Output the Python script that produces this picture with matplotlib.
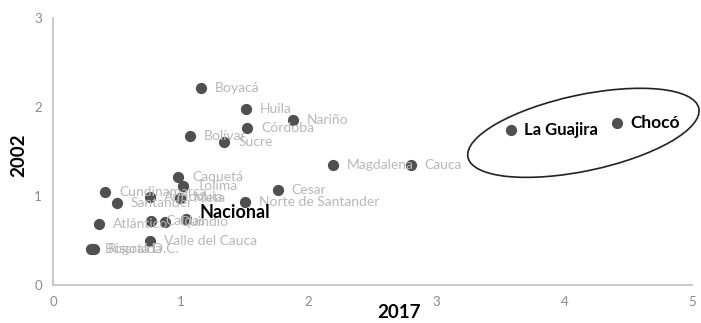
import matplotlib
matplotlib.use("Agg")
import matplotlib.pyplot as plt
from matplotlib.patches import Ellipse
from matplotlib.transforms import ScaledTranslation

plt.rcParams['font.family'] = ['Lato', 'DejaVu Sans']

# departamentos: valor 2017 (x) y 2002 (y)
names = ["Boyacá", "Huila", "Nariño", "Córdoba", "Bolívar", "Sucre",
         "Magdalena", "Cauca", "Caquetá", "Tolima", "Cundinamarca",
         "Santander", "Antioquia", "Meta", "Norte de Santander", "Cesar",
         "Atlántico", "Caldas", "Quindío", "Valle del Cauca",
         "Bogotá D.C.", "Risaralda"]
x2017 = [1.16, 1.51, 1.88, 1.52, 1.07, 1.34,
         2.19, 2.80, 0.98, 1.02, 0.41,
         0.50, 0.76, 0.99, 1.50, 1.76,
         0.36, 0.77, 0.88, 0.76,
         0.30, 0.32]
y2002 = [2.21, 1.98, 1.85, 1.76, 1.67, 1.61,
         1.35, 1.35, 1.21, 1.11, 1.04,
         0.92, 0.99, 0.98, 0.93, 1.07,
         0.69, 0.72, 0.71, 0.49,
         0.41, 0.40]

# destacados
hl_names = ["La Guajira", "Chocó", "Nacional"]
hl_x = [3.58, 4.41, 1.04]
hl_y = [1.74, 1.82, 0.74]

fig = plt.figure(figsize=(7.01, 3.23), dpi=100)
ax = fig.add_axes([0.0756, 0.1176, 0.9116, 0.8266])

ax.scatter(x2017, y2002, s=50, color="#505050", zorder=3)
ax.scatter(hl_x, hl_y, s=50, color="#505050", zorder=3)

for n, x, y in zip(names, x2017, y2002):
    ax.annotate(n, (x, y), xytext=(10, 0), textcoords="offset points",
                va="center", ha="left", fontsize=10, color="#b8b8b8")

hl_size = [12, 12.5, 13]
hl_dy = [0, 0, 5]
for n, x, y, fs, dy in zip(hl_names, hl_x, hl_y, hl_size, hl_dy):
    ax.annotate(n, (x, y), xytext=(10, dy), textcoords="offset points",
                va="center", ha="left", fontsize=fs, color="black",
                fontweight="bold", zorder=4)

# elipse alrededor de La Guajira y Chocó
ell = Ellipse((0, 0), 2.36, 0.76, angle=12, fill=False, edgecolor="#222222",
              linewidth=1.2, clip_on=False,
              transform=fig.dpi_scale_trans + ScaledTranslation(4.15, 1.71, ax.transData))
ax.add_patch(ell)

ax.set_xlim(0, 5)
ax.set_ylim(0, 3)
ax.set_xticks([0, 1, 2, 3, 4, 5])
ax.set_yticks([0, 1, 2, 3])
ax.tick_params(length=0, colors="#8a8a8a", labelsize=9.5, pad=8)
for s in ["top", "right"]:
    ax.spines[s].set_visible(False)
for s in ["left", "bottom"]:
    ax.spines[s].set_color("#bfbfbf")
    ax.spines[s].set_linewidth(1.2)

fig.text(399 / 701, 1 - 312 / 323, "2017", fontsize=13.5, fontweight="bold",
         ha="center", va="center")
fig.text(19 / 701, 1 - 155 / 323, "2002", fontsize=13.5, fontweight="bold",
         ha="center", va="center", rotation=90)

fig.savefig("out.png", dpi=100)
